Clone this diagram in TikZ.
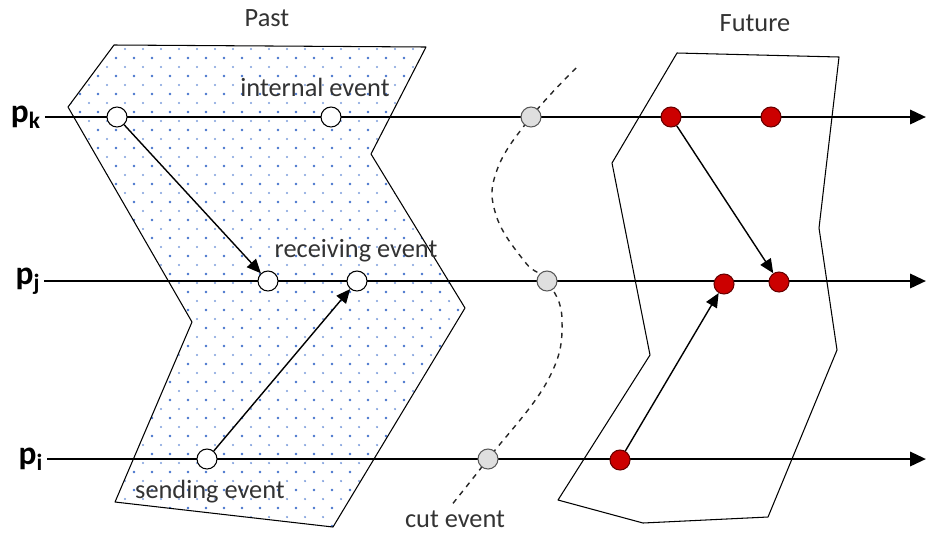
\documentclass[tikz,border=0pt]{standalone}
\usepackage{fontspec}
\setmainfont{Carlito}
\usetikzlibrary{arrows.meta,positioning}

\definecolor{dotblue}{RGB}{70,115,205}

\begin{document}
\begin{tikzpicture}[
	x=0.02cm, y=-0.02cm,
	event/.style={circle, draw, inner sep=0pt, minimum size=0.4cm, line width=0.6pt},
	pastev/.style={event, fill=white},
	cutev/.style={event, fill=gray!25, draw=gray!70!black},
	futev/.style={event, fill=red!80!black, draw=red!40!black},
	proc/.style={font=\bfseries\fontsize{19}{21}\selectfont, inner sep=2pt},
	timeline/.style={line width=1.6pt, -{Triangle[length=9pt,width=8pt]}},
	msg/.style={line width=0.8pt, -{Triangle[length=8pt,width=7pt]}},
	region/.style={line width=0.6pt, line join=round},
	note/.style={font=\fontsize{15}{17}\selectfont, inner sep=1pt, text=black!80}
	]
	\useasboundingbox (0,0) rectangle (928,535);

	% past region with dots
	\fill[white] (114,45) -- (426,47) -- (371,154) -- (465,308) -- (333,527) -- (115,502) -- (192,322) -- (68,107) -- cycle;
	\begin{scope}
		\clip (114,45) -- (426,47) -- (371,154) -- (465,308) -- (333,527) -- (115,502) -- (192,322) -- (68,107) -- cycle;
		\foreach \x in {62,80,...,470}
			\foreach \y in {40,58,...,530} {
				\fill[dotblue] (\x,\y) circle (0.75pt);
				\fill[dotblue!70] (\x+9,\y+9) circle (0.7pt);
			}
	\end{scope}
	\draw[region] (114,45) -- (426,47) -- (371,154) -- (465,308) -- (333,527) -- (115,502) -- (192,322) -- (68,107) -- cycle;

	% future region
	\draw[region] (677,53) -- (839,57) -- (819,228) -- (837,350) -- (768,517) -- (643,523) -- (558,500) -- (650,355) -- (612,163) -- cycle;

	% cut
	\draw[dashed, line width=0.8pt, gray!30!black] plot[smooth, tension=0.7] coordinates {(576,68) (531,117) (497,170) (496,215) (525,262) (547,281) (562,320) (548,380) (488,459) (450,507)};

	\node[note] (past) at (267,18) {Past};
	\node[note] (future) at (755,23) {Future};

	% processes
	\node[proc] (pk) at (26,117) {p\textsubscript{k}};
	\node[proc] (pj) at (28,281) {p\textsubscript{j}};
	\node[proc] (pi) at (31,459) {p\textsubscript{i}};
	\coordinate (pkend) at (926,117);
	\coordinate (pjend) at (926,281);
	\coordinate (piend) at (926,459);
	\draw[timeline] (pk) -- (pkend);
	\draw[timeline] (pj) -- (pjend);
	\draw[timeline] (pi) -- (piend);

	% events
	\node[pastev] (k1) at (117,117) {};
	\node[pastev] (k2) at (331,117) {};
	\node[cutev] (kc) at (531,117) {};
	\node[futev] (k3) at (671,117) {};
	\node[futev] (k4) at (771,117) {};

	\node[pastev] (j1) at (268,281) {};
	\node[pastev] (j2) at (357,281) {};
	\node[cutev] (jc) at (547,281) {};
	\node[futev] (j3) at (724,284) {};
	\node[futev] (j4) at (779,282) {};

	\node[pastev] (i1) at (207,459) {};
	\node[cutev] (ic) at (488,459) {};
	\node[futev] (i2) at (620,460) {};

	% messages
	\draw[msg] (k1) -- (j1);
	\draw[msg] (i1) -- (j2);
	\draw[msg] (k3) -- (j4);
	\draw[msg] (i2) -- (j3);

	\node[note] (internal) at (315,87) {internal event};
	\node[note] (receiving) at (356,251) {receiving event};
	\node[note] (sending) at (210,492) {sending event};
	\node[note] (cutlbl) at (455,519) {cut event};
\end{tikzpicture}
\end{document}
